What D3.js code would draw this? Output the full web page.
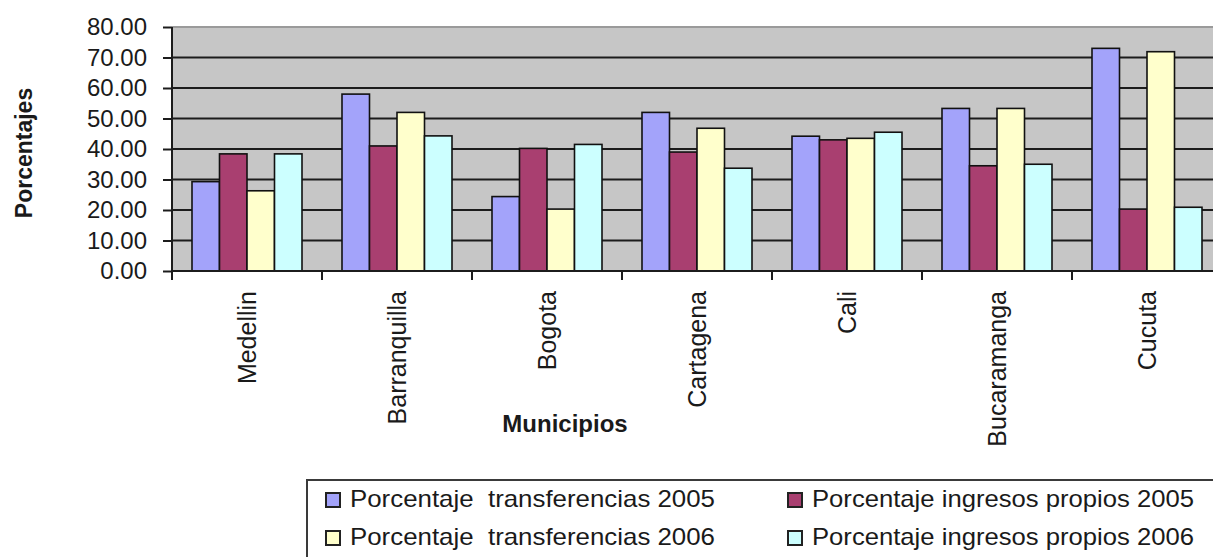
<!DOCTYPE html>
<html>
<head>
<meta charset="utf-8">
<script src="https://cdn.jsdelivr.net/npm/d3@7/dist/d3.min.js"></script>
<style>
  html, body { margin: 0; padding: 0; background: #fff; }
  svg { display: block; }
  text { font-family: "Liberation Sans", Arial, sans-serif; fill: #1a1a1a; }
</style>
</head>
<body>
<svg id="chart" width="1213" height="557"></svg>
<script>
// Municipalities on the x axis
const municipios = ["Medellin", "Barranquilla", "Bogota", "Cartagena", "Cali", "Bucaramanga", "Cucuta"];

// Series values (percent)
const transferencias2005 = [29.3, 58.0, 24.4, 52.0, 44.2, 53.3, 73.0];
const ingresosPropios2005 = [38.4, 41.0, 40.2, 39.0, 43.0, 34.5, 20.3];
const transferencias2006 = [26.3, 52.0, 20.3, 46.8, 43.5, 53.3, 71.9];
const ingresosPropios2006 = [38.4, 44.3, 41.5, 33.7, 45.5, 35.0, 20.9];

const seriesNames = [
  "Porcentaje  transferencias 2005",
  "Porcentaje ingresos propios 2005",
  "Porcentaje  transferencias 2006",
  "Porcentaje ingresos propios 2006"
];
const seriesColors = ["#a3a3fa", "#a93f70", "#ffffcc", "#ccffff"];

// Y axis ticks
const yTicks = [0, 10, 20, 30, 40, 50, 60, 70, 80];

const seriesValues = [transferencias2005, ingresosPropios2005, transferencias2006, ingresosPropios2006];

const svg = d3.select("#chart");

const plot = { left: 172, top: 27, bottom: 271, right: 1222 };

const x = d3.scaleBand()
  .domain(municipios)
  .range([plot.left, plot.right])
  .paddingInner(40 / 150)
  .paddingOuter(20 / 150);

const xs = d3.scaleBand()
  .domain(d3.range(seriesValues.length))
  .range([0, x.bandwidth()]);

const y = d3.scaleLinear().domain([0, 80]).range([plot.bottom, plot.top]);

// Plot area background
svg.append("rect")
  .attr("x", plot.left)
  .attr("y", y(80))
  .attr("width", plot.right - plot.left)
  .attr("height", y(0) - y(80))
  .attr("fill", "#c6c6c6");

// Gridlines
svg.append("g")
  .selectAll("line")
  .data(yTicks.filter(d => d > 0))
  .join("line")
  .attr("x1", plot.left)
  .attr("x2", plot.right)
  .attr("y1", d => y(d))
  .attr("y2", d => y(d))
  .attr("stroke", d => d === 80 ? "#9a9a9a" : "#1c1c1c")
  .attr("stroke-width", 2);

// Bars
const groups = svg.append("g")
  .selectAll("g")
  .data(municipios)
  .join("g")
  .attr("transform", d => `translate(${x(d)},0)`);

groups.selectAll("rect")
  .data((d, i) => seriesValues.map((s, k) => ({ k, v: s[i] })))
  .join("rect")
  .attr("x", d => xs(d.k))
  .attr("y", d => y(d.v))
  .attr("width", xs.bandwidth())
  .attr("height", d => y(0) - y(d.v))
  .attr("fill", d => seriesColors[d.k])
  .attr("stroke", "#111")
  .attr("stroke-width", 1.6);

// Y axis
const yAxis = d3.axisLeft(y)
  .tickValues(yTicks)
  .tickFormat(d3.format(".2f"))
  .tickSize(9)
  .tickPadding(16);

const gy = svg.append("g")
  .attr("transform", `translate(${plot.left},0)`)
  .call(yAxis);
gy.select(".domain").remove();
gy.append("line")
  .attr("x1", 0).attr("x2", 0)
  .attr("y1", y(80)).attr("y2", y(0) + 9)
  .attr("stroke", "#1c1c1c").attr("stroke-width", 2);
gy.selectAll(".tick line").attr("stroke", "#1c1c1c").attr("stroke-width", 2);
gy.selectAll(".tick text")
  .attr("font-size", 24)
  .attr("font-family", "Liberation Sans, Arial, sans-serif")
  .attr("fill", "#1a1a1a");

// X axis line and category boundary ticks
const gx = svg.append("g");
gx.append("line")
  .attr("x1", plot.left).attr("x2", plot.right)
  .attr("y1", y(0)).attr("y2", y(0))
  .attr("stroke", "#1c1c1c").attr("stroke-width", 2);
gx.selectAll("line.b")
  .data(municipios.slice(1))
  .join("line")
  .attr("class", "b")
  .attr("x1", d => x(d) - x.step() * x.paddingInner() / 1 / 2 * 1)
  .attr("x2", d => x(d) - x.step() * x.paddingInner() / 2)
  .attr("y1", y(0))
  .attr("y2", y(0) + 9)
  .attr("stroke", "#1c1c1c").attr("stroke-width", 2);

// Category labels (rotated)
gx.selectAll("text")
  .data(municipios)
  .join("text")
  .attr("transform", d => `translate(${x(d) + x.bandwidth() / 2},${y(0) + 20}) rotate(-90)`)
  .attr("text-anchor", "end")
  .attr("dy", "0.36em")
  .attr("font-size", 25)
  .text(d => d);

// Axis titles
svg.append("text")
  .attr("transform", `translate(24,153) rotate(-90)`)
  .attr("text-anchor", "middle")
  .attr("dy", "0.36em")
  .attr("font-size", 23)
  .attr("font-weight", "bold")
  .text("Porcentajes");

svg.append("text")
  .attr("x", 565)
  .attr("y", 432)
  .attr("text-anchor", "middle")
  .attr("font-size", 24)
  .attr("font-weight", "bold")
  .text("Municipios");

// Legend
const legend = svg.append("g");
legend.append("rect")
  .attr("x", 307).attr("y", 480)
  .attr("width", 960).attr("height", 120)
  .attr("fill", "#fff")
  .attr("stroke", "#3a3a3a")
  .attr("stroke-width", 2);

const legendCols = [326, 788];
const legendRows = [507, 545];
const legendItems = legend.selectAll("g.item")
  .data(seriesNames)
  .join("g")
  .attr("class", "item")
  .attr("transform", (d, i) => `translate(${legendCols[i % 2]},${legendRows[Math.floor(i / 2)]})`);

legendItems.append("rect")
  .attr("x", 0).attr("y", -14)
  .attr("width", 14).attr("height", 14)
  .attr("fill", (d, i) => seriesColors[i])
  .attr("stroke", "#222")
  .attr("stroke-width", 2);

legendItems.append("text")
  .attr("x", 24)
  .attr("y", 0)
  .attr("font-size", 24)
  .style("white-space", "pre")
  .attr("textLength", (d, i) => i % 2 === 0 ? 365 : 382)
  .attr("lengthAdjust", "spacingAndGlyphs")
  .text(d => d);
</script>
</body>
</html>
